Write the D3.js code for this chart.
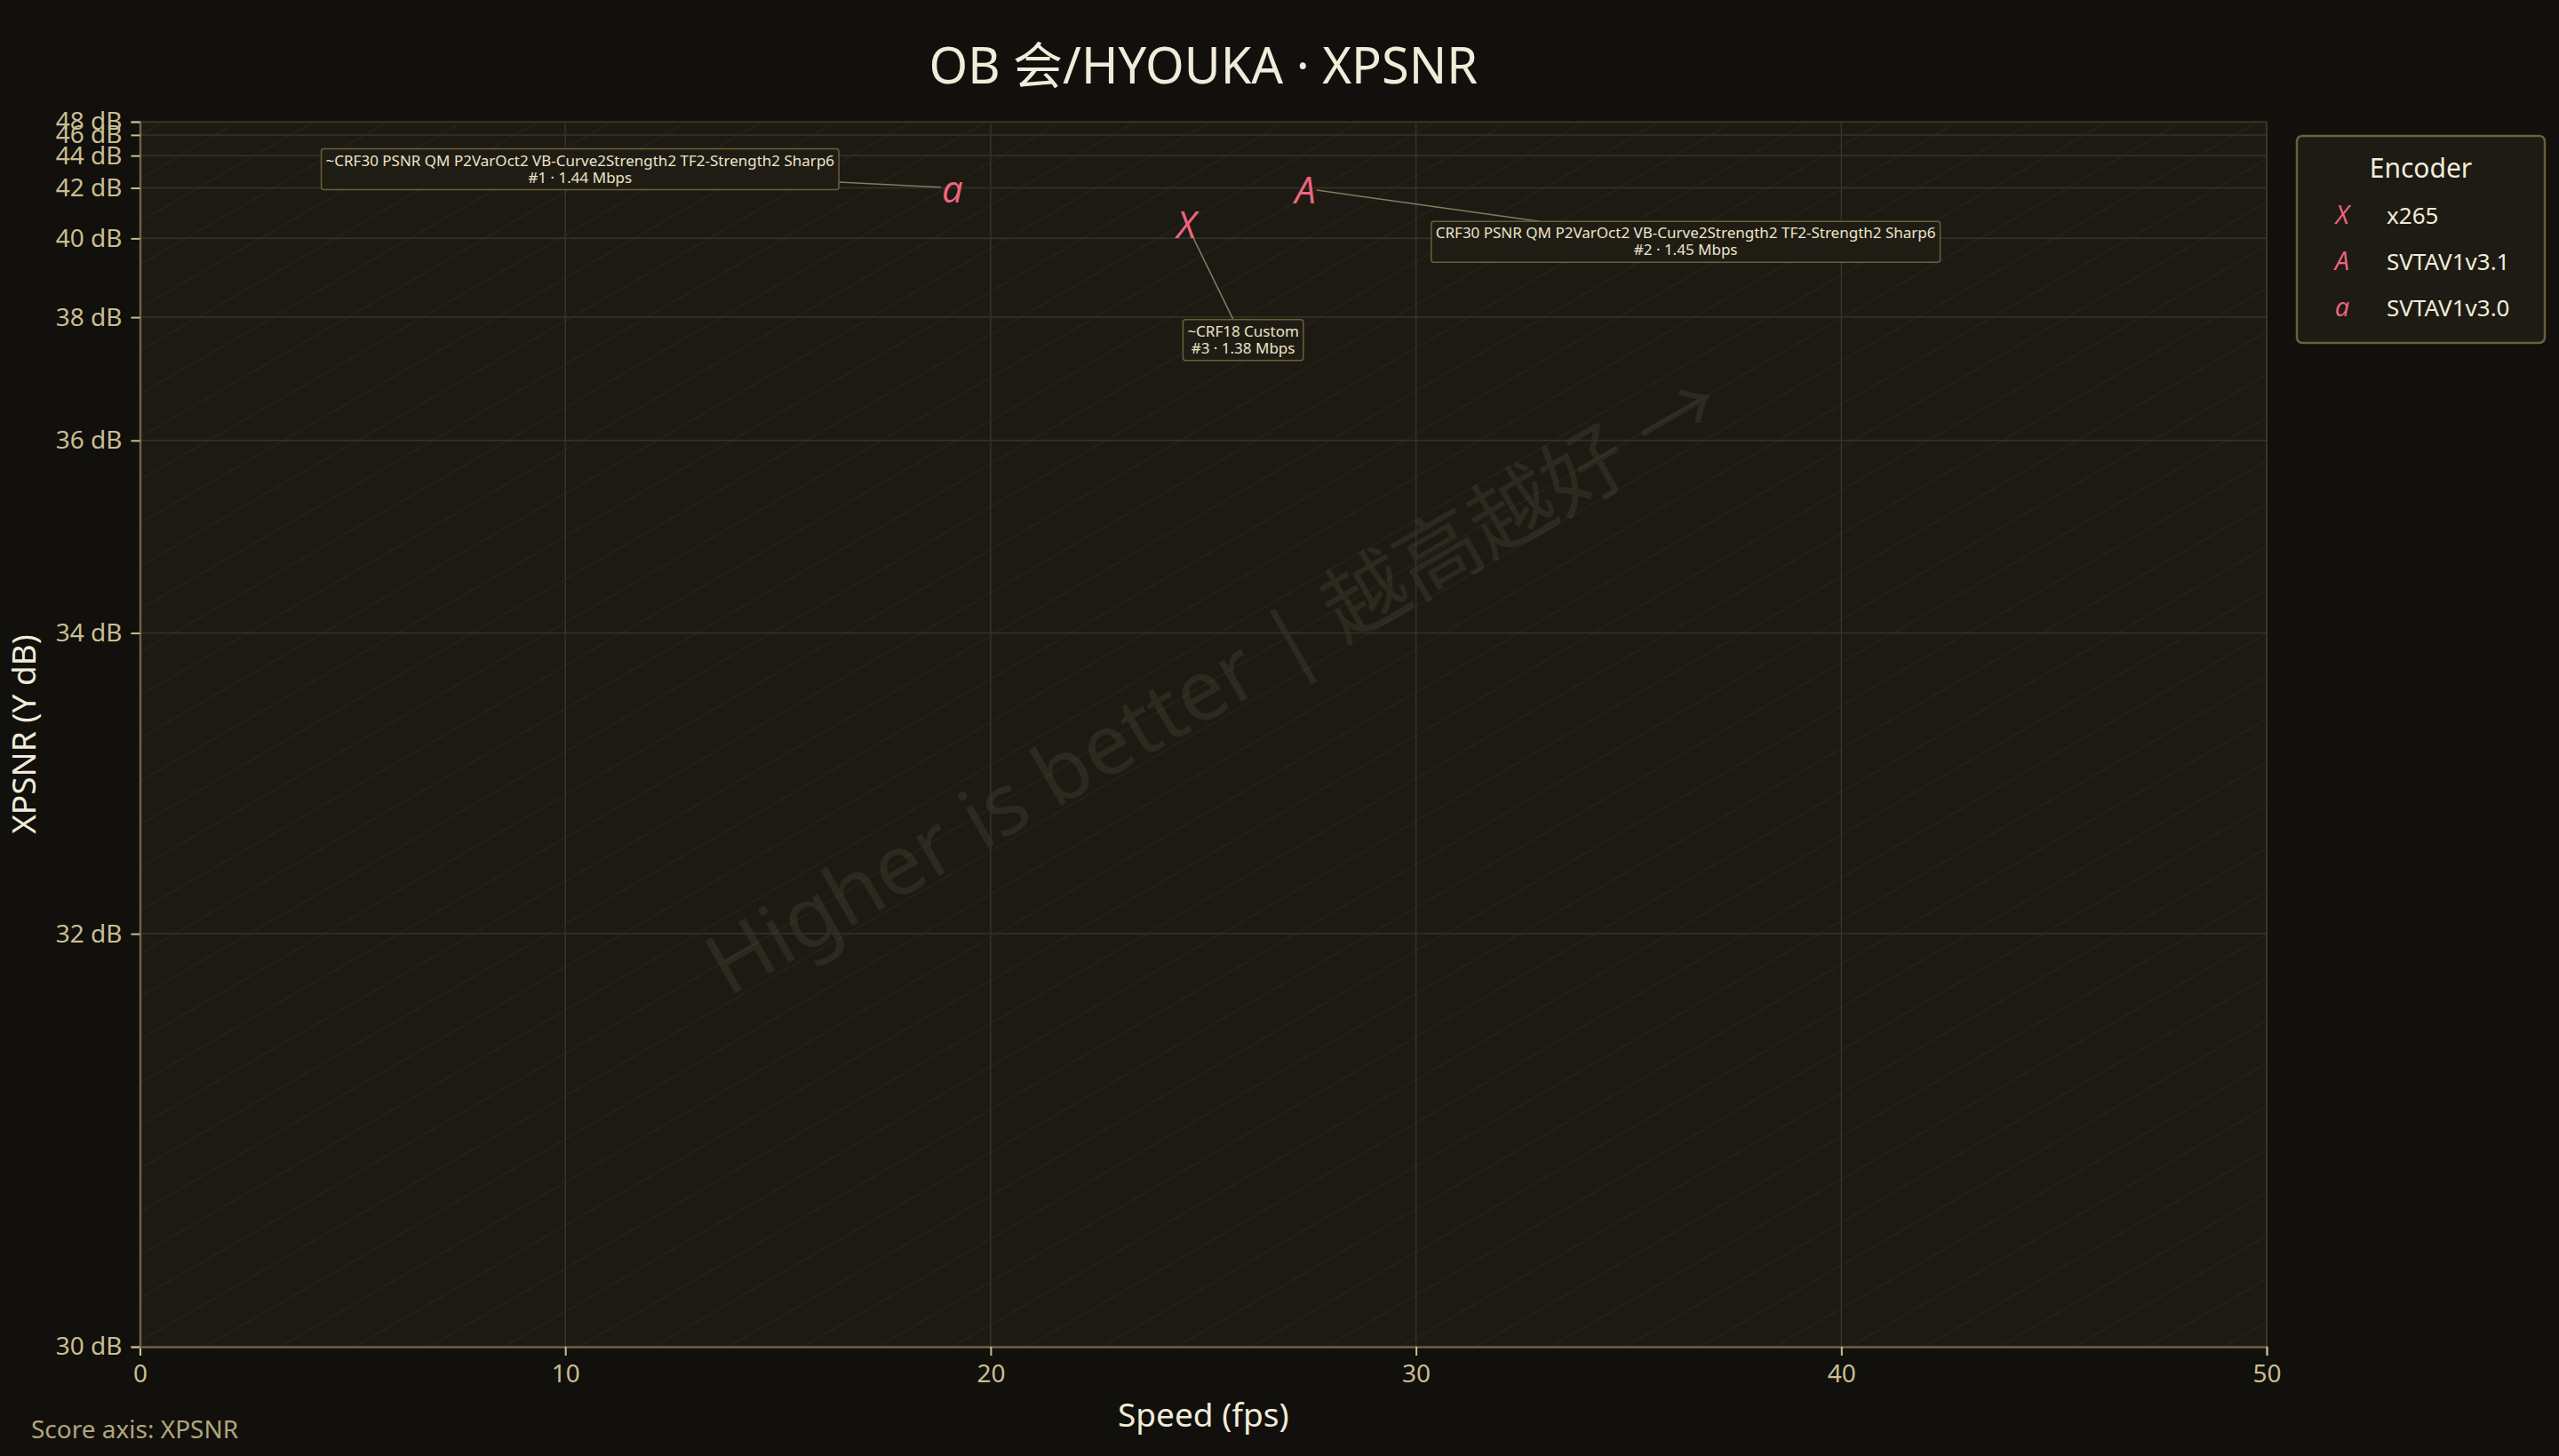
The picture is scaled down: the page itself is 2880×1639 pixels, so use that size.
<!DOCTYPE html>
<html><head><meta charset="utf-8">
<script src="https://cdn.jsdelivr.net/npm/d3@7"></script>
<style>html,body{margin:0;padding:0;background:#11100c;} svg{display:block}</style>
</head><body><svg id="c" width="2880" height="1639"></svg>
<script>
// ---- data ----
const encoders = ["x265", "SVTAV1v3.1", "SVTAV1v3.0"];
const symbols = ["X", "A", "a"];
const speeds = [24.6, 27.4, 19.1];          // fps
const xpsnr = [40.5, 41.97, 42.0];          // dB
const settings = ["~CRF18 Custom",
  "CRF30 PSNR QM P2VarOct2 VB-Curve2Strength2 TF2-Strength2 Sharp6",
  "~CRF30 PSNR QM P2VarOct2 VB-Curve2Strength2 TF2-Strength2 Sharp6"];
const ranks = [3, 2, 1];
const bitrates = [1.38, 1.45, 1.44];        // Mbps
const xTicks = [0, 10, 20, 30, 40, 50];
const yTicks = [30, 32, 34, 36, 38, 40, 42, 44, 46, 48];
const titleText = "OB 会/HYOUKA · XPSNR";
const watermark = "Higher is better | 越高越好 →";

// ---- layout ----
const W = 2880, H = 1639;
const P = {left: 157.5, right: 2551, top: 137, bottom: 1516};
const labelOffsets = [[64, 131], [428, 60], [-419, -21]];
const FONT = "'Noto Sans','Noto Sans CJK SC',sans-serif";
const C = {bg: "#11100c", plot: "#1c1a13", grid: "#37322a", axis: "#6f6241", tick: "#c9bd92",
  title: "#f1ebda", pink: "#f0657f", box: "#1f1c15", boxStroke: "#6b5f3a", lead: "#857b5f"};

const svg = d3.select("#c").style("font-family", FONT);
svg.append("rect").attr("width", W).attr("height", H).attr("fill", C.bg);

// scales
const x = d3.scaleLinear().domain([0, 50]).range([P.left, P.right]);
const T = d => Math.pow(0.8, d - 30);            // error-like transform of dB
const yLin = d3.scaleLinear().domain([T(30.2), T(48)]).range([P.bottom, P.top]).clamp(true);
const y = Object.assign(d => yLin(T(d)), {
  domain: () => [30.2, 48], range: () => yLin.range(), copy() { return y; }
});

// plot background + hatch
const defs = svg.append("defs");
const ang = -Math.atan2(P.bottom - P.top, P.right - P.left) * 180 / Math.PI;
const pat = defs.append("pattern").attr("id", "hatch").attr("patternUnits", "userSpaceOnUse")
  .attr("width", 200).attr("height", 42).attr("patternTransform", `rotate(${ang})`);
pat.append("line").attr("x1", 0).attr("x2", 200).attr("y1", 0.75).attr("y2", 0.75)
  .attr("stroke", "#25221a").attr("stroke-width", 1.5);
defs.append("clipPath").attr("id", "clip").append("rect")
  .attr("x", P.left).attr("y", P.top).attr("width", P.right - P.left).attr("height", P.bottom - P.top);

svg.append("rect").attr("x", P.left).attr("y", P.top).attr("width", P.right - P.left)
  .attr("height", P.bottom - P.top).attr("fill", C.plot);
svg.append("rect").attr("x", P.left).attr("y", P.top).attr("width", P.right - P.left)
  .attr("height", P.bottom - P.top).attr("fill", "url(#hatch)");

// watermark
const cx = (P.left + P.right) / 2, cy = (P.top + P.bottom) / 2;
svg.append("g").attr("clip-path", "url(#clip)").append("text")
  .attr("transform", `translate(${cx + 28},${cy - 28}) rotate(${ang})`)
  .attr("text-anchor", "middle").attr("font-size", 95).attr("fill", "#d8c99a").attr("fill-opacity", 0.09)
  .text(watermark);

// grid
const grid = svg.append("g");
grid.selectAll("line.h").data(yTicks.slice(1)).join("line").attr("class", "h")
  .attr("x1", P.left).attr("x2", P.right).attr("y1", d => y(d)).attr("y2", d => y(d))
  .attr("stroke", C.grid).attr("stroke-width", 1.5);
grid.selectAll("line.v").data(xTicks.slice(1)).join("line").attr("class", "v")
  .attr("x1", d => x(d)).attr("x2", d => x(d)).attr("y1", P.top).attr("y2", P.bottom)
  .attr("stroke", d => d === 50 ? "#4a4230" : C.grid).attr("stroke-width", 1.5);
svg.append("line").attr("x1", P.left).attr("x2", P.right).attr("y1", P.top + 0.5).attr("y2", P.top + 0.5)
  .attr("stroke", "#3a3427").attr("stroke-width", 1.5);

// axes
const xa = svg.append("g").attr("transform", `translate(0,${P.bottom})`)
  .call(d3.axisBottom(x).tickValues(xTicks).tickSize(10).tickPadding(10).tickFormat(d3.format("d")));
const ya = svg.append("g").attr("transform", `translate(${P.left},0)`)
  .call(d3.axisLeft(y).tickValues(yTicks).tickSize(10).tickPadding(10).tickFormat(d => d + " dB"));
[xa, ya].forEach(a => {
  a.select(".domain").attr("stroke", C.axis).attr("stroke-width", 2.5);
  a.selectAll(".tick line").attr("stroke", C.tick).attr("stroke-width", 2);
  a.selectAll(".tick text").attr("fill", C.tick).attr("font-size", 28).attr("font-family", FONT);
});

// axis titles
svg.append("text").attr("x", cx).attr("y", 1606).attr("text-anchor", "middle")
  .attr("font-size", 37).attr("fill", C.title).text("Speed (fps)");
svg.append("text").attr("transform", `translate(40,${cy}) rotate(-90)`).attr("text-anchor", "middle")
  .attr("font-size", 37).attr("fill", C.title).text("XPSNR (Y dB)");
svg.append("text").attr("x", cx).attr("y", 94).attr("text-anchor", "middle")
  .attr("font-size", 56).attr("fill", C.title).text(titleText);
svg.append("text").attr("x", 35).attr("y", 1619).attr("font-size", 28).attr("fill", "#b3a57c")
  .text("Score axis: XPSNR");

// points + labels
const pts = encoders.map((e, i) => ({e, s: symbols[i], px: x(speeds[i]), py: y(xpsnr[i]),
  l1: settings[i], l2: `#${ranks[i]} · ${bitrates[i].toFixed(2)} Mbps`, off: labelOffsets[i]}));
const leadG = svg.append("g"), boxG = svg.append("g"), markG = svg.append("g");
pts.forEach(p => {
  const bx = p.px + p.off[0], by = p.py + p.off[1];
  const g = boxG.append("g").attr("transform", `translate(${bx},${by})`);
  const rect = g.append("rect");
  const t = g.append("text").attr("text-anchor", "middle").attr("font-size", 17).attr("fill", "#ece4c9");
  const a = t.append("tspan").attr("x", 0).attr("y", -4).text(p.l1);
  const b = t.append("tspan").attr("x", 0).attr("y", 15).text(p.l2);
  const w = Math.max(a.node().getComputedTextLength(), b.node().getComputedTextLength()) + 10;
  const h = 46;
  rect.attr("x", -w / 2).attr("y", -h / 2).attr("width", w).attr("height", h).attr("rx", 3)
    .attr("fill", C.box).attr("fill-opacity", 0.92).attr("stroke", C.boxStroke).attr("stroke-width", 1.5);
  const dx = bx - p.px, dy = by - p.py, len = Math.hypot(dx, dy);
  const s = Math.min((w / 2) / Math.abs(dx || 1e-9), (h / 2) / Math.abs(dy || 1e-9));
  leadG.append("line").attr("x1", p.px + dx / len * 13).attr("y1", p.py + dy / len * 13)
    .attr("x2", bx - dx * s).attr("y2", by - dy * s).attr("stroke", C.lead).attr("stroke-width", 1.5);
  markG.append("text").attr("x", p.px).attr("y", p.py).attr("text-anchor", "middle")
    .attr("dominant-baseline", "central").attr("font-size", 42).attr("font-style", "italic")
    .attr("font-family", "'Open Sans','Noto Sans',sans-serif").attr("fill", C.pink).text(p.s);
});

// legend
const lg = svg.append("g");
lg.append("rect").attr("x", 2585).attr("y", 153).attr("width", 279).attr("height", 233).attr("rx", 6)
  .attr("fill", "#1d1b14").attr("stroke", C.boxStroke).attr("stroke-width", 2.5);
lg.append("text").attr("x", 2724.5).attr("y", 200).attr("text-anchor", "middle").attr("font-size", 30)
  .attr("fill", C.title).text("Encoder");
encoders.forEach((e, i) => {
  const yy = 252 + i * 52;
  lg.append("text").attr("x", 2636).attr("y", yy).attr("text-anchor", "middle").attr("font-size", 29)
    .attr("font-style", "italic").attr("font-family", "'Open Sans','Noto Sans',sans-serif")
    .attr("fill", C.pink).text(symbols[i]);
  lg.append("text").attr("x", 2686).attr("y", yy).attr("font-size", 26).attr("fill", C.title).text(e);
});
</script></body></html>
